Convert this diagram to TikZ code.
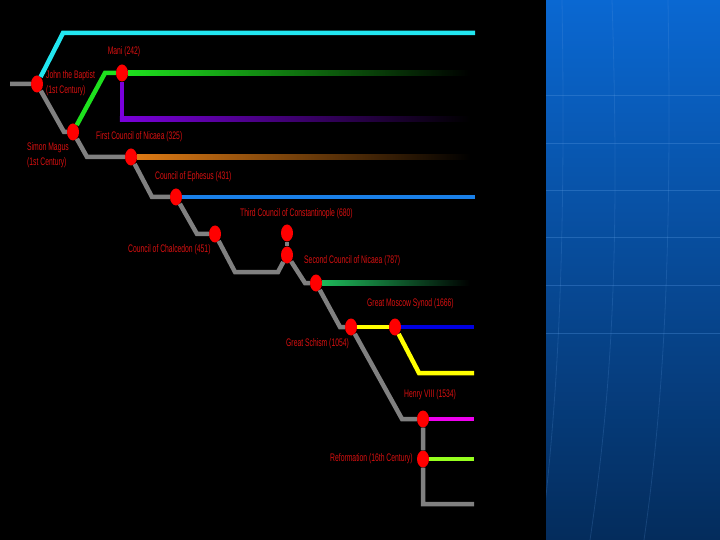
\documentclass[tikz,border=0pt]{standalone}
\usepackage{fontspec}
\newfontfamily\labelfont[FakeStretch=0.62]{Liberation Sans}
\usepackage{xcolor}
\definecolor{LabRed}{RGB}{215,16,16}
\definecolor{TrunkGray}{RGB}{128,128,128}
\definecolor{ColCyan}{RGB}{34,230,240}
\definecolor{ColGreen}{RGB}{30,225,30}
\definecolor{ColPurple}{RGB}{122,0,220}
\definecolor{ColOrange}{RGB}{222,122,20}
\definecolor{ColBlue}{RGB}{26,128,232}
\definecolor{ColSpring}{RGB}{30,185,90}
\definecolor{ColYellow}{RGB}{255,255,0}
\definecolor{ColNavy}{RGB}{0,0,225}
\definecolor{ColMagenta}{RGB}{238,0,238}
\definecolor{ColLime}{RGB}{150,255,30}
\definecolor{PanelTop}{RGB}{10,104,210}
\definecolor{PanelBot}{RGB}{4,44,92}
\usepackage{tikz}
\usetikzlibrary{shapes}
\tikzstyle{Dot}=[ellipse,fill=red,inner sep=0pt,minimum width=12bp,
minimum height=17bp]
\tikzstyle{Edge}=[line width=4.5bp]
\tikzstyle{Trunk}=[Edge,draw=TrunkGray]
\tikzstyle{Label}=[font=\labelfont\fontsize{11}{15.5}\selectfont,
text=LabRed,inner sep=0pt]
\tikzstyle{PanelLine}=[draw=white!30!PanelTop,line width=0.6bp,opacity=.35]
\tikzstyle{PanelArc}=[draw=white!35!PanelTop,line width=0.8bp,opacity=.2]

\begin{document}
\begin{tikzpicture}[x=1bp,y=-1bp]
        \useasboundingbox(0,0)rectangle(720,540);
        \fill[black](0,0)rectangle(546,540);
        \shade[top color=PanelTop,bottom color=PanelBot](546,0)rectangle(720,540);
        \foreach \y in {95,143,190,237,285,333}
            \draw[PanelLine](546,\y)--(720,\y);
        \begin{scope}
            \clip(546,0)rectangle(720,540);
            \draw[PanelArc](541,540)..controls(558,400)and(566,250)..(562,0);
            \draw[PanelArc](590,540)..controls(612,390)and(620,250)..(612,0);
            \draw[PanelArc](644,540)..controls(664,400)and(672,250)..(668,0);
        \end{scope}
        \node[Dot](john)at(37,84){};
        \node[Dot](simon)at(73,132){};
        \node[Dot](mani)at(122,73){};
        \node[Dot](nicaea)at(131,157){};
        \node[Dot](ephesus)at(176,197){};
        \node[Dot](chalcedon)at(215,234){};
        \node[Dot](third)at(287,233){};
        \node[Dot](second)at(287,255){};
        \node[Dot](branch)at(316,283){};
        \node[Dot](schism)at(351,327){};
        \node[Dot](moscow)at(395,327){};
        \node[Dot](henry)at(423,419){};
        \node[Dot](reform)at(423,459){};
        \coordinate(s0)at(10,84);
        \coordinate(b1)at(64,132);
        \coordinate(b2)at(87,157);
        \coordinate(b3)at(152,197);
        \coordinate(b4)at(197,234);
        \coordinate(b5)at(235,272);
        \coordinate(b6)at(278,272);
        \coordinate(b7)at(305,283);
        \coordinate(b8)at(340,327);
        \coordinate(b9)at(402,419);
        \coordinate(b10)at(423,504);
        \coordinate(e0)at(474,504);
        \coordinate(c1)at(63,33);
        \coordinate(c2)at(475,33);
        \coordinate(g1)at(105,73);
        \coordinate(g2)at(470,73);
        \coordinate(p1)at(122,119);
        \coordinate(p2)at(470,119);
        \coordinate(o1)at(470,157);
        \coordinate(l1)at(475,197);
        \coordinate(t1)at(470,283);
        \coordinate(n1)at(474,327);
        \coordinate(y1)at(419,373);
        \coordinate(y2)at(474,373);
        \coordinate(m1)at(474,419);
        \coordinate(r1)at(474,459);
        \draw[Trunk](s0)--(john)--(b1)--(simon)--(b2)--(nicaea)--(b3)--(ephesus)
            --(b4)--(chalcedon)--(b5)--(b6)--(second)--(b7)--(branch)--(b8)
            --(schism)--(b9)--(henry)--(reform)--(b10)--(e0);
        \draw[Trunk](third)--(second);
        \draw[Edge,draw=ColCyan](john)--(c1)--(c2);
        \draw[Edge,draw=ColGreen](simon)--(g1)--(mani);
        \shade[left color=ColGreen,middle color=ColGreen!55!black,right color=black]
            ([yshift=2.25bp]mani.east)rectangle([yshift=-2.25bp]g2);
        \draw[Edge,draw=ColPurple](mani)--(p1);
        \shade[left color=ColPurple,middle color=ColPurple!55!black,right color=black]
            ([yshift=2.25bp,xshift=-2.25bp]p1)rectangle([yshift=-2.25bp]p2);
        \shade[left color=ColOrange,middle color=ColOrange!60!black,right color=black]
            ([yshift=2.25bp]nicaea.east)rectangle([yshift=-2.25bp]o1);
        \draw[Edge,draw=ColBlue](ephesus)--(l1);
        \shade[left color=ColSpring,middle color=ColSpring!65!black,right color=black]
            ([yshift=2.25bp]branch.east)rectangle([yshift=-2.25bp]t1);
        \draw[Edge,draw=ColYellow](schism)--(moscow);
        \draw[Edge,draw=ColNavy](moscow)--(n1);
        \draw[Edge,draw=ColYellow](moscow)--(y1)--(y2);
        \draw[Edge,draw=ColMagenta](henry)--(m1);
        \draw[Edge,draw=ColLime](reform)--(r1);
        \node[Label](Lmani)at(124,52){Mani (242)};
        \node[Label,anchor=west,align=left](Ljohn)at(46,83){John the Baptist\\(1st Century)};
        \node[Label,anchor=west,align=left](Lsimon)at(27,155){Simon Magus\\(1st Century)};
        \node[Label,anchor=west](Lnicaea)at(96,137){First Council of Nicaea (325)};
        \node[Label,anchor=west](Lephesus)at(155,177){Council of Ephesus (431)};
        \node[Label,anchor=west](Lthird)at(240,214){Third Council of Constantinople (680)};
        \node[Label,anchor=west](Lchalcedon)at(128,250){Council of Chalcedon (451)};
        \node[Label,anchor=west](Lsecond)at(304,261){Second Council of Nicaea (787)};
        \node[Label,anchor=west](Lmoscow)at(367,304){Great Moscow Synod (1666)};
        \node[Label,anchor=west](Lschism)at(286,344){Great Schism (1054)};
        \node[Label,anchor=west](Lhenry)at(404,395){Henry VIII (1534)};
        \node[Label,anchor=west](Lreform)at(330,459){Reformation (16th Century)};
    \end{tikzpicture}
\end{document}
